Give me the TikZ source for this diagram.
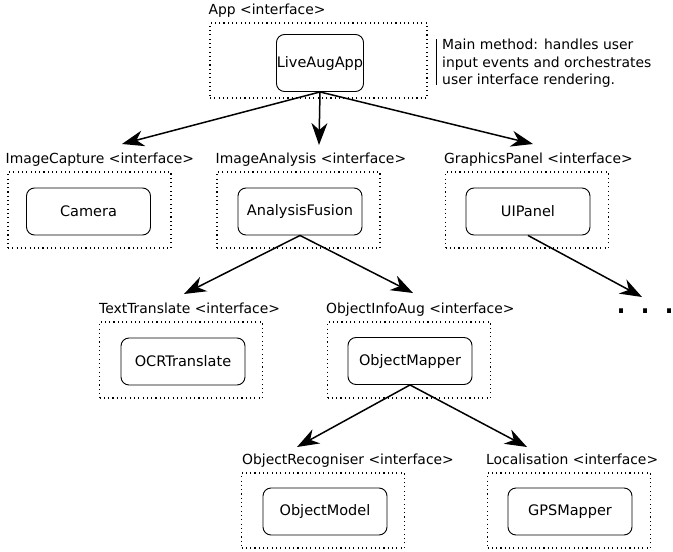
\documentclass[tikz,border=0pt]{standalone}
\usepackage{fontspec}
\setmainfont{DejaVu Sans}
\usetikzlibrary{arrows.meta}
\begin{document}
\begin{tikzpicture}[x=1pt,y=-1pt,
  container/.style={draw, line width=1.1pt, dash pattern=on 1.1pt off 3.2pt, minimum width=163pt, minimum height=76pt, inner sep=0pt},
  comp/.style={draw, line width=0.9pt, rounded corners=8pt, minimum width=124pt, minimum height=47pt, font=\fontsize{14.5}{17}\selectfont, inner sep=0pt},
  ilabel/.style={anchor=base west, inner sep=0pt, font=\fontsize{13.9}{17}\selectfont},
  link/.style={line width=1.5pt, -{Stealth[length=22pt,width=16pt,inset=7pt]}},
]
\fill[white] (0,0) rectangle (673,552);
\useasboundingbox (0,0) rectangle (673,552);

% containers
\node[container, minimum width=217pt, minimum height=75pt] (appC) at (318.5,60.5) {};
\node[container] (capC) at (89.5,210) {};
\node[container] (anaC) at (298.5,210) {};
\node[container] (gfxC) at (527,210) {};
\node[container] (txtC) at (181,360) {};
\node[container] (objC) at (409,360) {};
\node[container, minimum height=75pt] (recC) at (323,510.5) {};
\node[container, minimum height=75pt] (locC) at (569,510.5) {};

% labels
\node[ilabel] (appL) at ([shift={(-1,-8)}]appC.north west) {App <interface>};
\node[ilabel] (capL) at ([shift={(-2,-8)}]capC.north west) {ImageCapture <interface>};
\node[ilabel] (anaL) at ([shift={(-1,-8)}]anaC.north west) {ImageAnalysis <interface>};
\node[ilabel] (gfxL) at ([shift={(-1,-8)}]gfxC.north west) {GraphicsPanel <interface>};
\node[ilabel] (txtL) at ([shift={(0,-8)}]txtC.north west) {TextTranslate <interface>};
\node[ilabel] (objL) at ([shift={(-1,-8)}]objC.north west) {ObjectInfoAug <interface>};
\node[ilabel] (recL) at ([shift={(1,-8)}]recC.north west) {ObjectRecogniser <interface>};
\node[ilabel] (locL) at ([shift={(-1,-8)}]locC.north west) {Localisation <interface>};

% components
\node[comp, minimum width=87pt, minimum height=57pt] (app) at (320,63) {LiveAugApp};
\node[comp] (cam) at (88.5,211.5) {Camera};
\node[comp] (ana) at (300,211.5) {AnalysisFusion};
\node[comp] (gfx) at (528,211.5) {UIPanel};
\node[comp] (txt) at (183,361.5) {OCRTranslate};
\node[comp] (obj) at (410,361) {ObjectMapper};
\node[comp] (rec) at (325,511.5) {ObjectModel};
\node[comp] (loc) at (570,511.5) {GPSMapper};

% annotation
\node[anchor=north west, inner sep=0pt, align=left, font=\fontsize{13.9}{17.5}\selectfont] (note) at (442,39) {Main method: handles user\\input events and orchestrates\\user interface rendering.};
\draw[line width=0.9pt] ([xshift=-6pt]note.north west) -- ([shift={(-6,-3)}]note.south west);

% ellipsis
\node[anchor=base west, inner sep=0pt, font=\fontsize{38}{38}\selectfont] (more) at (615,313) {\frenchspacing. . .};

% arrow end points
\coordinate (t1) at (122,144);
\coordinate (t2) at (319,145);
\coordinate (t3) at (533,144);
\coordinate (t4) at (184,294);
\coordinate (t5) at (413,293);
\coordinate (t6) at (642,297);
\coordinate (t7) at (297,447);
\coordinate (t8) at (527,447);

\draw[link] (app.south) -- (t1);
\draw[link] (app.south) -- (t2);
\draw[link] (app.south) -- (t3);
\draw[link] (ana.south) -- (t4);
\draw[link] (ana.south) -- (t5);
\draw[link] (gfx.south) -- (t6);
\draw[link] (obj.south) -- (t7);
\draw[link] (obj.south) -- (t8);
\end{tikzpicture}
\end{document}
